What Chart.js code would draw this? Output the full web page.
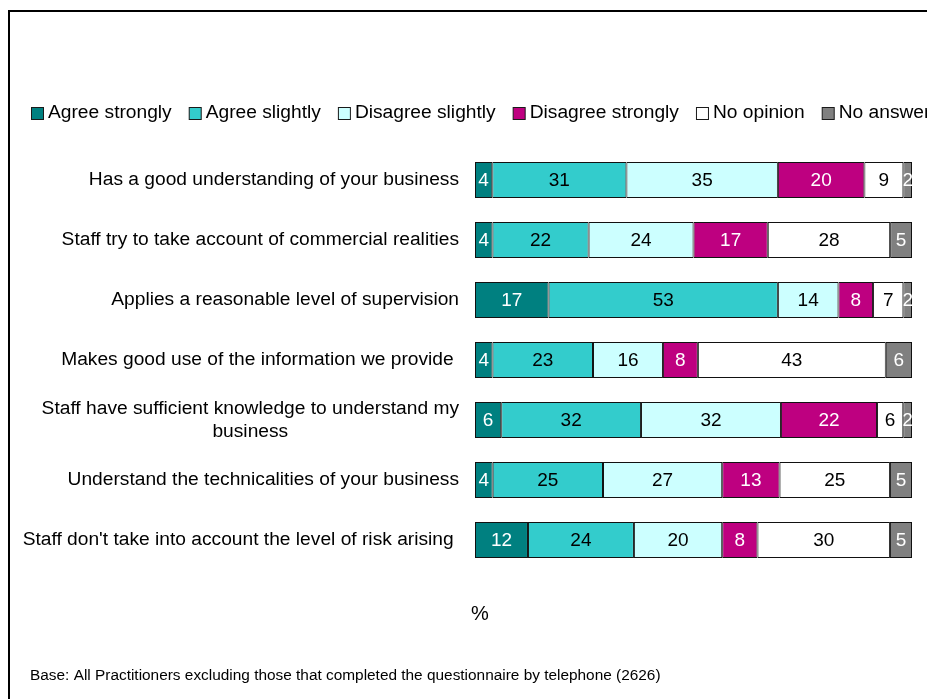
<!DOCTYPE html>
<html>
<head>
<meta charset="utf-8">
<script src="https://cdn.jsdelivr.net/npm/chart.js@4"></script>
<style>
    html, body { margin: 0; padding: 0; background: #fff; overflow: hidden; }
    .frame {
        position: absolute; left: 8px; top: 10px; width: 1200px; height: 1200px;
        border-top: 2px solid #000; border-left: 2px solid #000;
    }
    #chart { position: absolute; left: 0; top: 0; }
</style>
</head>
<body>
<div class="frame"></div>
<canvas id="chart" width="927" height="699"></canvas>
<script>
const categories = [
    'Has a good understanding of your business',
    'Staff try to take account of commercial realities',
    'Applies a reasonable level of supervision',
    'Makes good use of the information we provide ',
    ['Staff have sufficient knowledge to understand my', 'business'],
    'Understand the technicalities of your business',
    "Staff don't take into account the level of risk arising "
];

const seriesNames = ['Agree strongly', 'Agree slightly', 'Disagree slightly', 'Disagree strongly', 'No opinion', 'No answer'];

const agreeStrongly = [4, 4, 17, 4, 6, 4, 12];
const agreeSlightly = [31, 22, 53, 23, 32, 25, 24];
const disagreeSlightly = [35, 24, 14, 16, 32, 27, 20];
const disagreeStrongly = [20, 17, 8, 8, 22, 13, 8];
const noOpinion = [9, 28, 7, 43, 6, 25, 30];
const noAnswer = [2, 5, 2, 6, 2, 5, 5];

const footnote = 'Base: All Practitioners excluding those that completed the questionnaire by telephone (2626)';

const seriesValues = [agreeStrongly, agreeSlightly, disagreeSlightly, disagreeStrongly, noOpinion, noAnswer];
const fillColours = ['#008080', '#33CCCC', '#CCFFFF', '#BE0080', '#FFFFFF', '#808080'];
const textColours = ['#FFFFFF', '#000000', '#000000', '#FFFFFF', '#000000', '#FFFFFF'];

const FONT = '"Liberation Sans", Arial, sans-serif';

// each row is shown as a 100% bar, so scale by the row total
const rowTotals = categories.map((_, i) => seriesValues.reduce((s, arr) => s + arr[i], 0));

const datasets = seriesValues.map((arr, k) => ({
    label: seriesNames[k],
    data: arr.map((v, i) => v / rowTotals[i] * 100),
    backgroundColor: fillColours[k],
    borderColor: '#111',
    borderWidth: 1,
    borderSkipped: false,
    barPercentage: 0.6,
    categoryPercentage: 1.0
}));

// value labels, category labels, legend and footer text
const overlay = {
    id: 'overlay',
    afterDatasetsDraw(chart) {
        const ctx = chart.ctx;
        ctx.save();
        ctx.font = '19px ' + FONT;
        ctx.textAlign = 'center';
        ctx.textBaseline = 'middle';
        chart.data.datasets.forEach((ds, k) => {
            chart.getDatasetMeta(k).data.forEach((bar, i) => {
                const p = bar.getProps(['x', 'y', 'base', 'height'], true);
                const left = Math.min(p.x, p.base);
                const w = Math.abs(p.x - p.base);
                ctx.save();
                ctx.beginPath();
                ctx.rect(left, p.y - p.height / 2, w, p.height);
                ctx.clip();
                ctx.fillStyle = textColours[k];
                ctx.fillText(String(seriesValues[k][i]), left + w / 2, p.y + 1);
                ctx.restore();
            });
        });
        ctx.restore();
    },
    afterDraw(chart) {
        const ctx = chart.ctx;
        const yScale = chart.scales.y;
        const labelRight = chart.chartArea.left - 16;

        ctx.save();
        ctx.fillStyle = '#000';
        ctx.font = '19.2px ' + FONT;
        ctx.textBaseline = 'middle';

        // category labels, right aligned; wrapped lines are centred on each other
        categories.forEach((label, i) => {
            const y = yScale.getPixelForValue(i);
            if (Array.isArray(label)) {
                const widest = Math.max(...label.map(l => ctx.measureText(l).width));
                const cx = labelRight - widest / 2;
                const lineH = 23;
                ctx.textAlign = 'center';
                label.forEach((line, j) => {
                    ctx.fillText(line, cx, y + (j - (label.length - 1) / 2) * lineH);
                });
            } else {
                ctx.textAlign = 'right';
                ctx.fillText(label, labelRight, y);
            }
        });

        // legend row
        const box = 12;
        let x = 31;
        const ly = 113;
        ctx.textAlign = 'left';
        seriesNames.forEach((name, k) => {
            ctx.fillStyle = fillColours[k];
            ctx.fillRect(x + 0.5, ly - box / 2 + 0.5, box, box);
            ctx.strokeStyle = '#1a1a1a';
            ctx.lineWidth = 1;
            ctx.strokeRect(x + 0.5, ly - box / 2 + 0.5, box, box);
            ctx.fillStyle = '#000';
            ctx.fillText(name, x + box + 5, ly);
            x += box + 5 + ctx.measureText(name).width + 17;
        });

        // unit and base note
        ctx.textAlign = 'center';
        ctx.font = '20px ' + FONT;
        ctx.fillText('%', 480, 614);
        ctx.textAlign = 'left';
        ctx.font = '15.4px ' + FONT;
        ctx.fillText(footnote, 30, 676);
        ctx.restore();
    }
};

new Chart(document.getElementById('chart'), {
    type: 'bar',
    data: {
        labels: categories,
        datasets: datasets
    },
    options: {
        indexAxis: 'y',
        responsive: false,
        animation: false,
        devicePixelRatio: 1,
        layout: {
            padding: { left: 475, right: 15, top: 150, bottom: 129 }
        },
        scales: {
            x: { stacked: true, min: 0, max: 100, display: false },
            y: { stacked: true, display: false }
        },
        plugins: {
            legend: { display: false },
            tooltip: { enabled: false }
        }
    },
    plugins: [overlay]
});
</script>
</body>
</html>
